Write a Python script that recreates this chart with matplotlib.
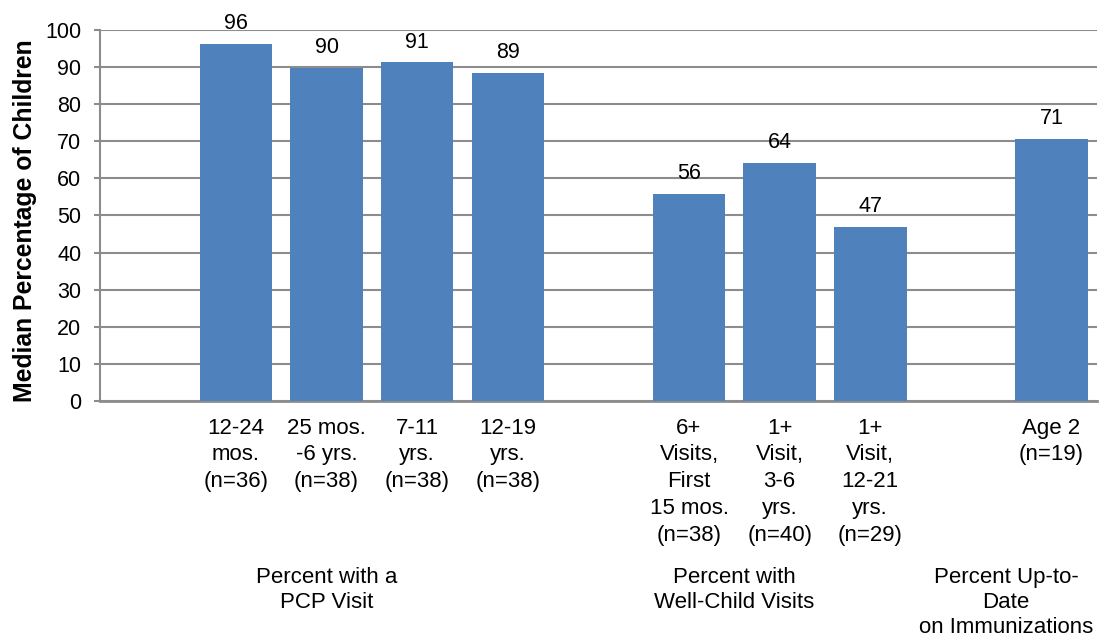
import numpy as np
import matplotlib
matplotlib.use("Agg")
import matplotlib.pyplot as plt

plt.rcParams['font.family'] = ['Liberation Sans', 'DejaVu Sans']

categories = ['', '12-24\nmos.\n(n=36)', '25 mos.\n-6 yrs.\n(n=38)', '7-11\nyrs.\n(n=38)',
              '12-19\nyrs.\n(n=38)', '', '6+\nVisits,\nFirst\n15 mos.\n(n=38)',
              '1+\nVisit,\n3-6\nyrs.\n(n=40)', '1+\nVisit,\n12-21\nyrs.\n(n=29)', '',
              'Age 2\n(n=19)']
values = [np.nan, 96.3, 89.7, 91.3, 88.5, np.nan, 55.9, 64.2, 46.9, np.nan, 70.6]
value_labels = ['', '96', '90', '91', '89', '', '56', '64', '47', '', '71']
groups = ['Percent with a\nPCP Visit', 'Percent with\nWell-Child Visits',
          'Percent Up-to-\nDate\non Immunizations']
group_spans = [(0, 4), (5, 8), (9, 10)]

fig = plt.figure(figsize=(10.99, 6.38), dpi=100)
ax = fig.add_axes([0.091, 0.3715, 0.907, 0.5815])

x = np.arange(len(categories))
vals = np.array(values, dtype=float)
mask = ~np.isnan(vals)
ax.bar(x[mask], vals[mask], width=0.8, color='#4F81BD', zorder=3)
for xi, v, lab in zip(x, vals, value_labels):
    if lab:
        ax.annotate(lab, (xi, v), xytext=(0, 7), textcoords='offset points',
                    ha='center', va='bottom', fontsize=15.5)

ax.set_xlim(-0.5, len(categories) - 0.5)
ax.set_ylim(0, 100)
ax.set_yticks(np.arange(0, 101, 10))
ax.yaxis.grid(True, color='#8C8C8C', linewidth=1.5, zorder=0)
ax.set_axisbelow(True)
for s in ['top', 'right']:
    ax.spines[s].set_visible(False)
ax.spines['left'].set_color('#8C8C8C')
ax.spines['left'].set_linewidth(1.5)
ax.spines['bottom'].set_color('#8C8C8C')
ax.spines['bottom'].set_linewidth(2)
ax.tick_params(axis='y', colors='#8C8C8C', length=4.5, width=1.5, labelsize=15.5,
               labelcolor='black', pad=9)
ax.set_xticks(x)
ax.set_xticklabels(categories, fontsize=16, linespacing=1.36, va='top')
ax.tick_params(axis='x', length=0, pad=12)
ax.set_ylabel('Median Percentage of Children', fontsize=17.8, fontweight='bold')
ax.yaxis.set_label_coords(-0.063, 0.485)

for g, (a, b) in zip(groups, group_spans):
    cx = (a + b) / 2
    ax.text(cx, -0.448, g, transform=ax.get_xaxis_transform(), ha='center', va='top',
            fontsize=16, linespacing=1.24)

fig.savefig('out.png', dpi=100)
